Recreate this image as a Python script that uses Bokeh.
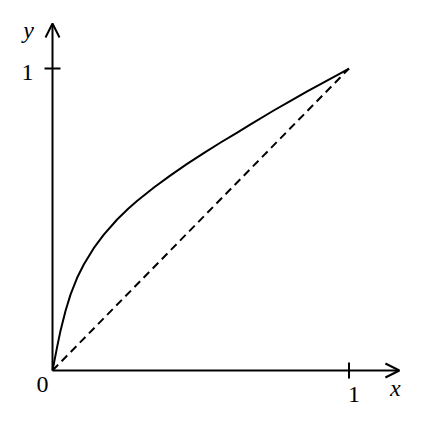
from bokeh.plotting import figure
from bokeh.models import Range1d, Arrow, OpenHead, Label
from bokeh.embed import file_html
from bokeh.resources import INLINE
import math

# data
curve_x = [0.0, 0.016, 0.027, 0.044, 0.061, 0.083, 0.106, 0.139, 0.173, 0.218,
           0.257, 0.286, 0.342, 0.398, 0.454, 0.510, 0.567, 0.623, 0.668,
           0.746, 0.803, 0.859, 0.915, 0.971, 1.0]
curve_y = [0.0, 0.080, 0.132, 0.198, 0.252, 0.307, 0.352, 0.405, 0.450, 0.500,
           0.537, 0.562, 0.606, 0.646, 0.684, 0.720, 0.755, 0.788, 0.815,
           0.861, 0.893, 0.924, 0.954, 0.984, 1.0]
diag_x = [0.0, 1.0]
diag_y = [0.0, 1.0]
x_ticks = [1]
y_ticks = [1]
x_tick_labels = ["1"]
y_tick_labels = ["1"]
origin_label = "0"
x_axis_label = "x"
y_axis_label = "y"
x_axis_end = 1.170
y_axis_end = 1.149

FONT = "Liberation Serif"
FS = "24px"

p = figure(width=422, height=423, output_backend="svg", toolbar_location=None,
           x_range=Range1d(-0.1754, 1.2479), y_range=Range1d(-0.1755, 1.2252),
           min_border=0)
p.axis.visible = False
p.grid.visible = False
p.outline_line_color = None
p.background_fill_color = "white"
p.border_fill_color = "white"

# diagonal and curve
p.line(diag_x, diag_y, line_color="black", line_width=2, line_dash="8 5")
p.line(curve_x, curve_y, line_color="black", line_width=2, line_join="round")

# axes with arrows
p.add_layout(Arrow(end=OpenHead(size=14, line_width=2, line_color="black"),
                   x_start=0, y_start=0, x_end=x_axis_end, y_end=0,
                   line_width=2, line_color="black"))
p.add_layout(Arrow(end=OpenHead(size=14, line_width=2, line_color="black"),
                   x_start=0, y_start=0, x_end=0, y_end=y_axis_end,
                   line_width=2, line_color="black"))

# ticks
p.scatter(x_ticks, [0] * len(x_ticks), marker="dash", size=16, angle=math.pi / 2,
          line_color="black", line_width=2)
p.scatter([0] * len(y_ticks), y_ticks, marker="dash", size=16, angle=0,
          line_color="black", line_width=2)

def lab(text, x, y, dx, dy, italic=False):
    p.add_layout(Label(x=x, y=y, x_offset=dx, y_offset=dy, text=text,
                       text_font=FONT, text_font_size=FS,
                       text_font_style="italic" if italic else "normal",
                       text_align="center", text_baseline="alphabetic",
                       text_color="black"))

for t, s in zip(x_ticks, x_tick_labels):
    lab(s, t, 0, 5, -24)
for t, s in zip(y_ticks, y_tick_labels):
    lab(s, 0, t, -25, -4)
lab(origin_label, 0, 0, -10, -14)
lab(x_axis_label, x_axis_end, 0, -4, -17, italic=True)
lab(y_axis_label, 0, y_axis_end, -24, -6, italic=True)

open("out.html", "w").write(file_html(p, INLINE))
